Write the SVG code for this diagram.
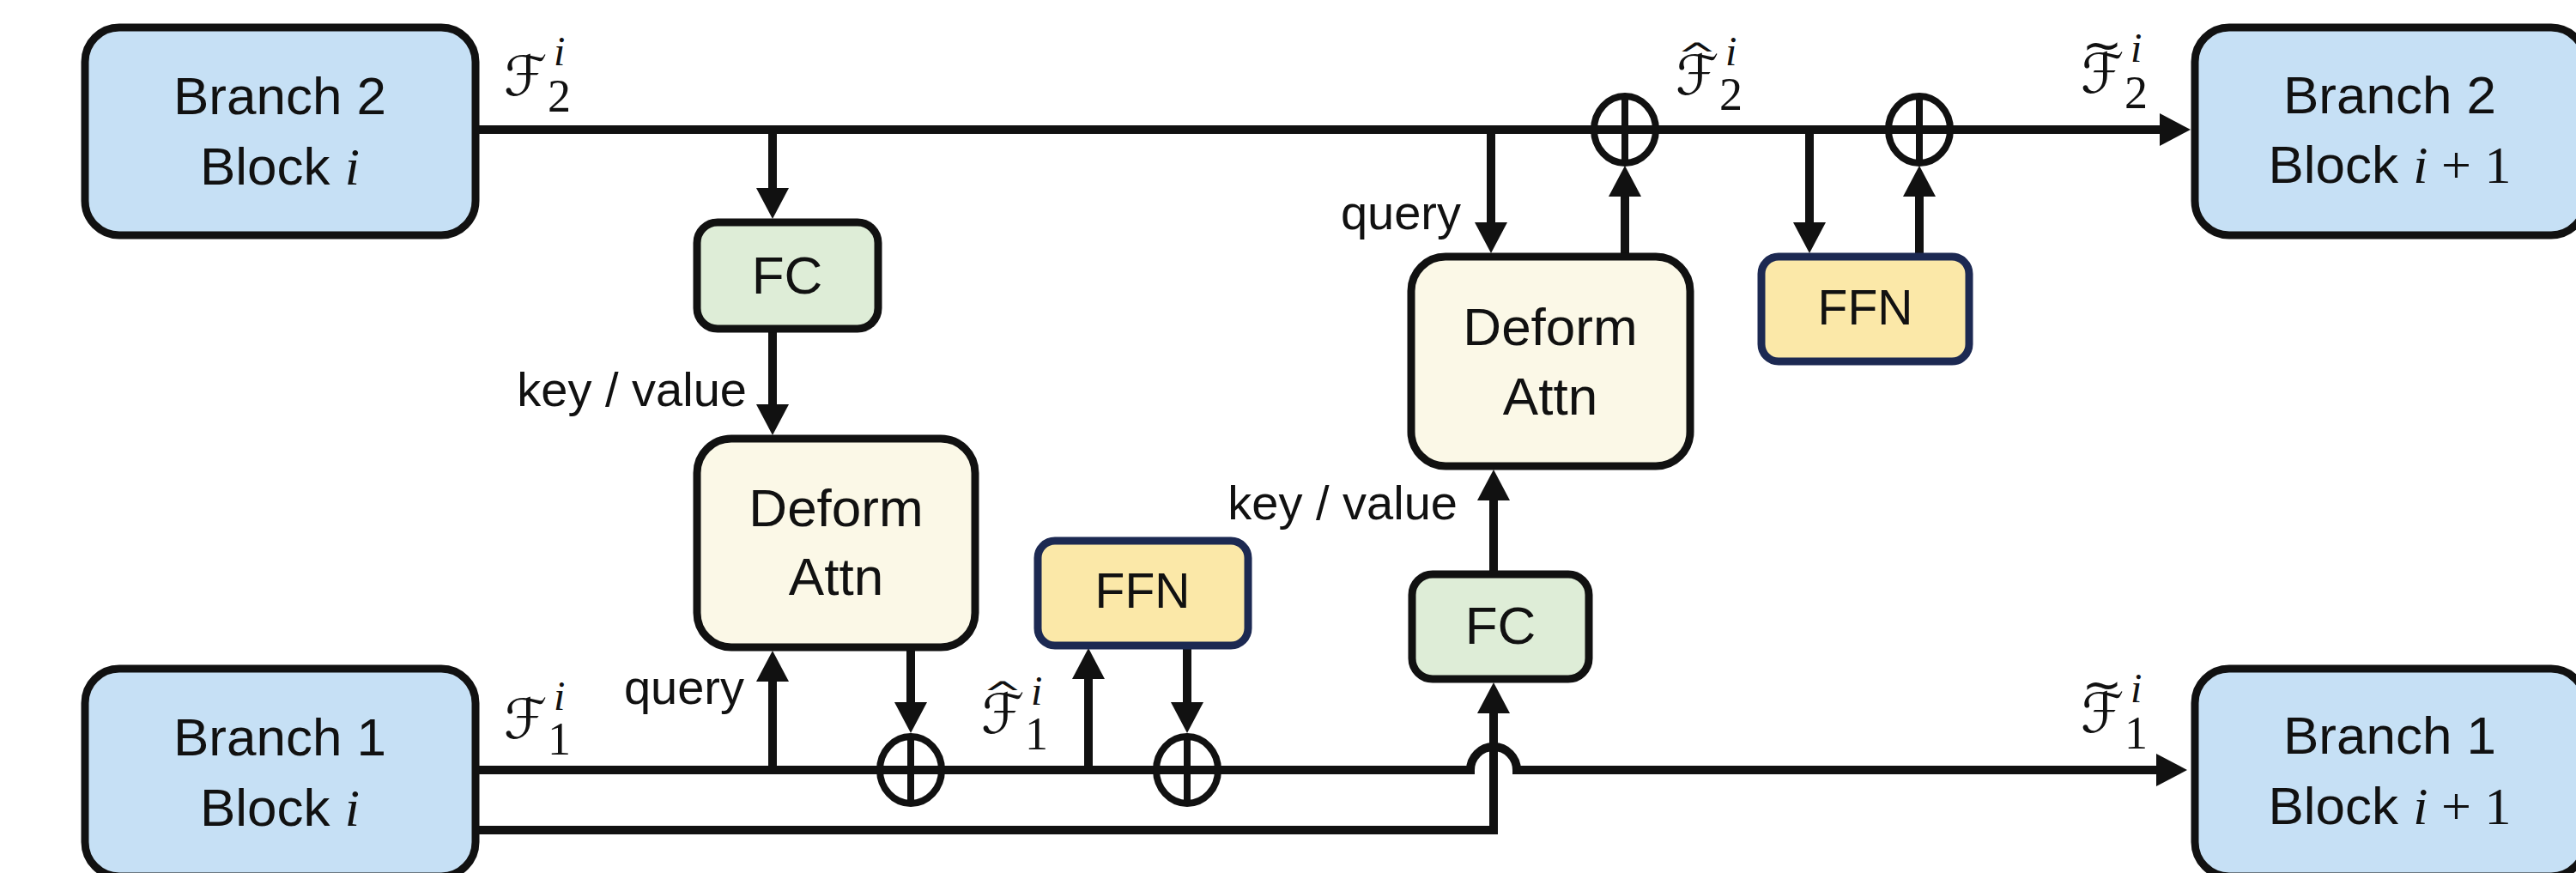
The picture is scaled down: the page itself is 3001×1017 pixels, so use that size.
<svg xmlns="http://www.w3.org/2000/svg" width="3001" height="1017" viewBox="0 0 3001 1017">
<defs>
<style>
.box{stroke:#111;stroke-width:9}
.blue{fill:#c6e0f5}
.green{fill:#deedd7}
.cream{fill:#fbf8e7}
.ffn{fill:#fbe8a8;stroke:#1c2952;stroke-width:9}
.t{font-family:"Liberation Sans",Arial,sans-serif;font-size:62px;fill:#111;text-anchor:middle}
.tf{font-family:"Liberation Sans",Arial,sans-serif;font-size:57px;fill:#111;text-anchor:middle}
.lbl{font-family:"Liberation Sans",Arial,sans-serif;font-size:56px;fill:#111;text-anchor:end}
.mi{font-family:"Liberation Serif","Times New Roman",serif;font-style:italic}
.mr{font-family:"Liberation Serif","Times New Roman",serif;font-style:normal}
.cal{font-family:"DejaVu Sans","DejaVu Serif",sans-serif;font-size:64px;fill:#111}
.sub{font-family:"Liberation Serif","Times New Roman",serif;font-size:54px;fill:#111}
.sup{font-family:"Liberation Serif","Times New Roman",serif;font-style:italic;font-size:48px;fill:#111}
.acc{font-family:"DejaVu Sans",sans-serif;font-size:56px;fill:#111;text-anchor:middle}
.ln{fill:none;stroke:#111;stroke-width:10;stroke-linejoin:miter}
.arr{marker-end:url(#ah)}
.op{fill:none;stroke:#111;stroke-width:8}
</style>
<marker id="ah" markerUnits="userSpaceOnUse" viewBox="0 0 36 38" markerWidth="36" markerHeight="38" refX="6" refY="19" orient="auto">
<path d="M0,0 L36,19 L0,38 z" fill="#111"/>
</marker>
</defs>
<rect width="3001" height="1017" fill="#ffffff"/>

<g id="connectors">
<path class="ln arr" d="M558,151 H2522"/>
<path class="ln arr" d="M900,151 V225"/>
<path class="ln arr" d="M900,387 V477"/>
<path class="ln arr" d="M1737,151 V265"/>
<path class="ln arr" d="M1893,295 V223"/>
<path class="ln arr" d="M2108,151 V265"/>
<path class="ln arr" d="M2236,295 V223"/>
<path class="ln arr" d="M558,897 H1713 A27,27 0 0 1 1767,897 H2518"/>
<path class="ln arr" d="M900,897 V788"/>
<path class="ln arr" d="M1061,758 V824"/>
<path class="ln arr" d="M1268,897 V785"/>
<path class="ln arr" d="M1383,755 V824"/>
<path class="ln arr" d="M558,967 H1740 V825"/>
<path class="ln arr" d="M1740,665 V577"/>
</g>

<g id="oplus-top-1"><ellipse class="op" cx="1893" cy="151" rx="36" ry="39"/><path class="op" d="M1893,112 V190 M1857,151 H1929"/></g>
<g id="oplus-top-2"><ellipse class="op" cx="2236" cy="151" rx="36" ry="39"/><path class="op" d="M2236,112 V190 M2200,151 H2272"/></g>
<g id="oplus-bot-1"><ellipse class="op" cx="1061" cy="897" rx="36" ry="39"/><path class="op" d="M1061,858 V936 M1025,897 H1097"/></g>
<g id="oplus-bot-2"><ellipse class="op" cx="1383" cy="897" rx="36" ry="39"/><path class="op" d="M1383,858 V936 M1347,897 H1419"/></g>

<g id="branch2-block-i">
<rect class="box blue" x="99" y="32" width="455" height="242" rx="40"/>
<text class="t" x="326" y="133">Branch 2</text>
<text class="t" x="326" y="215">Block <tspan class="mi">i</tspan></text>
</g>
<g id="branch2-block-i1">
<rect class="box blue" x="2557" y="32" width="455" height="242" rx="40"/>
<text class="t" x="2784" y="132">Branch 2</text>
<text class="t" x="2784" y="213">Block <tspan class="mi">i</tspan><tspan class="mr"> + 1</tspan></text>
</g>
<g id="branch1-block-i">
<rect class="box blue" x="99" y="779" width="455" height="242" rx="40"/>
<text class="t" x="326" y="880">Branch 1</text>
<text class="t" x="326" y="962">Block <tspan class="mi">i</tspan></text>
</g>
<g id="branch1-block-i1">
<rect class="box blue" x="2557" y="779" width="455" height="242" rx="40"/>
<text class="t" x="2784" y="878">Branch 1</text>
<text class="t" x="2784" y="960">Block <tspan class="mi">i</tspan><tspan class="mr"> + 1</tspan></text>
</g>

<g id="fc-left">
<rect class="box green" x="812" y="259" width="211" height="124" rx="24"/>
<text class="t" x="917" y="342">FC</text>
</g>
<g id="deform-left">
<rect class="box cream" x="812" y="511" width="324" height="243" rx="40"/>
<text class="t" x="974" y="613">Deform</text>
<text class="t" x="974" y="693">Attn</text>
</g>
<g id="ffn-left">
<rect class="ffn" x="1209" y="630" width="245" height="122" rx="20"/>
<text class="tf" x="1331" y="708">FFN</text>
</g>
<g id="fc-right">
<rect class="box green" x="1645" y="669" width="206" height="122" rx="24"/>
<text class="t" x="1748" y="750">FC</text>
</g>
<g id="deform-right">
<rect class="box cream" x="1644" y="299" width="325" height="244" rx="40"/>
<text class="t" x="1806" y="402">Deform</text>
<text class="t" x="1806" y="483">Attn</text>
</g>
<g id="ffn-right">
<rect class="ffn" x="2052" y="299" width="242" height="122" rx="20"/>
<text class="tf" x="2173" y="378">FFN</text>
</g>

<g id="labels">
<text class="lbl" x="870" y="473">key / value</text>
<text class="lbl" x="1702" y="267">query</text>
<text class="lbl" x="867" y="820">query</text>
<text class="lbl" x="1698" y="605">key / value</text>
</g>

<g id="math-F2">
<text class="cal" x="587" y="111">ℱ</text><text class="sub" x="638" y="130">2</text><text class="sup" x="645" y="76">i</text>
</g>
<g id="math-F2hat">
<text class="acc" transform="translate(1977,78) scale(1,0.7)">^</text>
<text class="cal" x="1952" y="110">ℱ</text><text class="sub" x="2003" y="128">2</text><text class="sup" x="2010" y="76">i</text>
</g>
<g id="math-F2tilde">
<text class="acc" transform="translate(2449,71)">~</text>
<text class="cal" x="2424" y="108">ℱ</text><text class="sub" x="2475" y="126">2</text><text class="sup" x="2482" y="72">i</text>
</g>
<g id="math-F1">
<text class="cal" x="587" y="860">ℱ</text><text class="sub" x="638" y="879">1</text><text class="sup" x="645" y="827">i</text>
</g>
<g id="math-F1hat">
<text class="acc" transform="translate(1168,822) scale(1,0.7)">^</text>
<text class="cal" x="1143" y="854">ℱ</text><text class="sub" x="1194" y="873">1</text><text class="sup" x="1201" y="821">i</text>
</g>
<g id="math-F1tilde">
<text class="acc" transform="translate(2449,816)">~</text>
<text class="cal" x="2424" y="853">ℱ</text><text class="sub" x="2475" y="872">1</text><text class="sup" x="2482" y="818">i</text>
</g>
</svg>
